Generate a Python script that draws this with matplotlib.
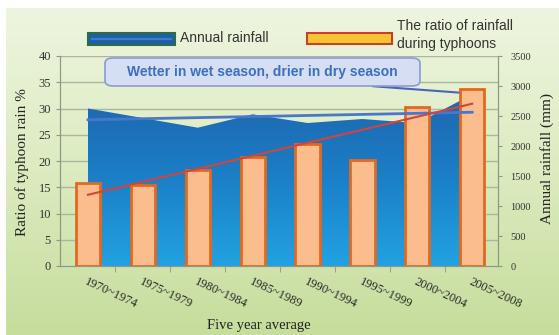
import numpy as np
import matplotlib.pyplot as plt
from matplotlib.patches import Rectangle, FancyBboxPatch
from matplotlib.colors import LinearSegmentedColormap

periods = ["1970~1974", "1975~1979", "1980~1984", "1985~1989",
           "1990~1994", "1995~1999", "2000~2004", "2005~2008"]
typhoon_ratio = [15.8, 15.5, 18.3, 20.8, 23.2, 20.2, 30.3, 33.8]   # %
annual_rain = [2625, 2466, 2305, 2528, 2383, 2450, 2380, 2860]     # mm

W, H = 559, 335
serif = "Liberation Serif"
sans = "Liberation Sans"

def fx(px):
    return px / W

def fy(py):
    return 1 - py / H

fig = plt.figure(figsize=(W / 100, H / 100), dpi=100)
fig.patch.set_facecolor("white")

# green gradient panel behind everything
bg = fig.add_axes([fx(6), 0, 1 - fx(6), fy(8)], zorder=-10)
bg_cmap = LinearSegmentedColormap.from_list("bg", ["#c6dd9c", "#dcebc0", "#eef5df"])
bg.imshow(np.linspace(0, 1, 256).reshape(-1, 1), cmap=bg_cmap, aspect="auto",
          origin="lower", extent=[0, 1, 0, 1])
bg.axis("off")

x = np.arange(len(periods))
ax = fig.add_axes([fx(60), fy(266), fx(498) - fx(60), fy(56) - fy(266)])
ax2 = ax.twinx()
ax.set_zorder(2)
ax2.set_zorder(1)
ax.patch.set_visible(False)
ax2.patch.set_visible(False)

xlim = (-0.51, 7.47)
ylim_ratio = (0, 40)
ylim_rain = (0, 3500)

# horizontal grid at the ratio ticks, kept under the rainfall area
for yv in range(5, 41, 5):
    ax2.plot(xlim, [yv, yv], transform=ax.transData, color="#a9b89c",
             lw=1.0, zorder=0)

# annual rainfall area with a vertical blue gradient
poly = ax2.fill_between(x, 0, annual_rain, color="none", lw=0, zorder=1)
area_cmap = LinearSegmentedColormap.from_list("area", ["#22a2e2", "#1b80c8", "#1e66ae"])
img = ax2.imshow(np.linspace(0, 1, 256).reshape(-1, 1), cmap=area_cmap,
                 origin="lower", aspect="auto",
                 extent=[x[0], x[-1], 0, max(annual_rain)], zorder=1)
img.set_clip_path(poly.get_paths()[0], transform=ax2.transData)

# typhoon ratio bars
ax.bar(x, typhoon_ratio, width=0.44, color="#fbbd8d", edgecolor="#e2691f",
       lw=2, zorder=2)

# linear trends
fit_r = np.polyval(np.polyfit(x, typhoon_ratio, 1), x)
ax.plot(x, fit_r, color="#d2443c", lw=1.5, zorder=4)
fit_a = np.polyval(np.polyfit(x, annual_rain, 1), x)
ax.plot(x, fit_a, transform=ax2.transData, color="#4a78c8", lw=2, zorder=3)

ax.set_xlim(*xlim)
ax.set_ylim(*ylim_ratio)
ax2.set_ylim(*ylim_rain)

# axes styling
for a in (ax, ax2):
    a.spines["top"].set_visible(False)
    for s in ("left", "right", "bottom"):
        a.spines[s].set_color("#8c9a84")
ax.set_yticks(range(0, 41, 5))
ax.tick_params(axis="y", labelsize=9, length=3, color="#8c9a84",
               labelcolor="#333333")
for t in ax.get_yticklabels():
    t.set_fontfamily(serif)
ax2.set_yticks(range(0, 3501, 500))
ax2.tick_params(axis="y", labelsize=7.5, length=3, pad=6,
                color="#8c9a84", labelcolor="#333333")
for t in ax2.get_yticklabels():
    t.set_fontfamily(serif)

ax.set_xticks(x)
ax.set_xticklabels(periods, rotation=-25, ha="left", rotation_mode="anchor",
                   fontfamily=serif, fontsize=9, color="#2a2a2a")
ax.set_xticks(x[:-1] + 0.5, minor=True)
ax.tick_params(axis="x", which="major", length=0, pad=7)
ax.tick_params(axis="x", which="minor", length=4, color="#8c9a84")

fig.text(fx(22), fy(162), "Ratio of typhoon rain %", rotation=90,
         ha="center", va="center", fontfamily=serif, fontsize=11,
         color="#222222")
fig.text(fx(547), fy(159), "Annual rainfall (mm)", rotation=90,
         ha="center", va="center", fontfamily=serif, fontsize=11,
         color="#222222")
fig.text(fx(259), fy(325), "Five year average", ha="center", va="center",
         fontfamily=serif, fontsize=10.5, color="#222222")

# legend drawn above the plot
fig.add_artist(Rectangle((fx(88), fy(45)), fx(175) - fx(88), fy(33) - fy(45),
                         transform=fig.transFigure, facecolor="#1e5fa8",
                         edgecolor="#2f6a4a", lw=1.5))
fig.add_artist(plt.Line2D([fx(92), fx(171)], [fy(39), fy(39)],
                          transform=fig.transFigure, color="#3c7cc8", lw=1.5))
fig.text(fx(180), fy(38), "Annual rainfall", ha="left", va="center",
         fontfamily=sans, fontsize=10, color="#333333")
fig.add_artist(Rectangle((fx(307), fy(44)), fx(392) - fx(307), fy(33) - fy(44),
                         transform=fig.transFigure, facecolor="#f7c531",
                         edgecolor="#c8402a", lw=1.5))
fig.text(fx(397), fy(35), "The ratio of rainfall\nduring typhoons", ha="left",
         va="center", fontfamily=sans, fontsize=10, color="#333333",
         linespacing=1.3)

# callout box
fig.add_artist(FancyBboxPatch((fx(105), fy(86)), fx(420) - fx(105),
                              fy(58) - fy(86),
                              boxstyle="round,pad=0,rounding_size=0.015",
                              transform=fig.transFigure, facecolor="#d6def3",
                              edgecolor="#8c9bd2", lw=1.2, zorder=5))
fig.text(fx(262), fy(72), "Wetter in wet season, drier in dry season",
         ha="center", va="center", fontfamily=sans, fontweight="bold",
         fontsize=10, color="#3b6fc2", zorder=6)
ax2.annotate("", xy=(x[-1] + 0.2, annual_rain[-1]), xycoords=ax2.transData,
             xytext=(fx(370), fy(86)), textcoords="figure fraction",
             arrowprops=dict(arrowstyle="-", color="#4a62c0", lw=1.5),
             annotation_clip=False)

fig.savefig("out.png", dpi=100)
